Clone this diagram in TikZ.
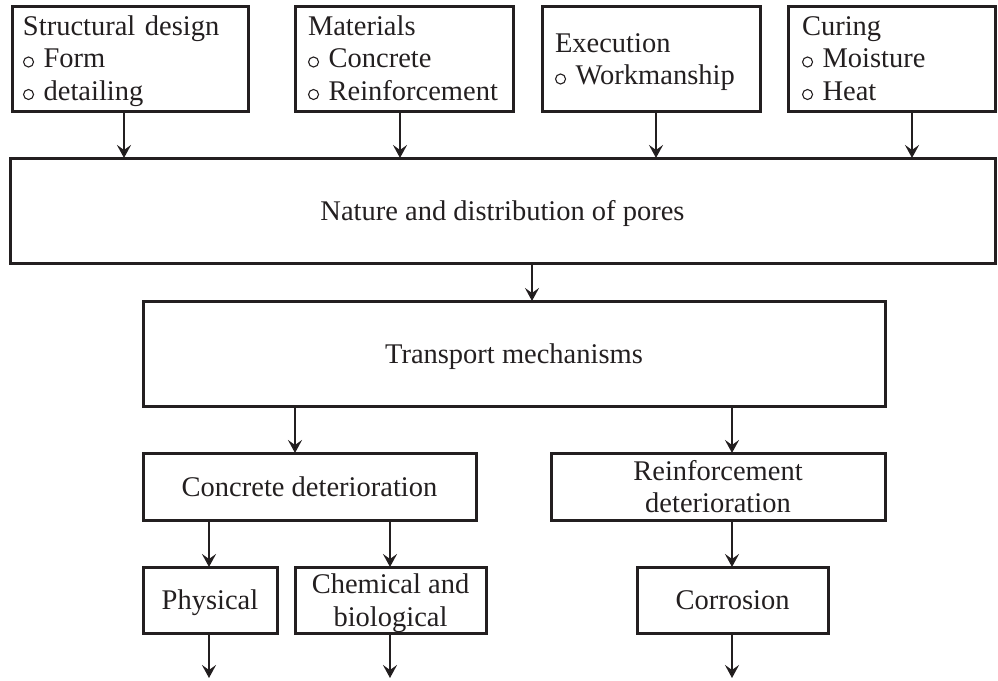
\documentclass[tikz,border=0pt]{standalone}
\usepackage{fontspec}
\setmainfont{Liberation Serif}
\usetikzlibrary{arrows.meta}
\definecolor{ink}{HTML}{231F20}
\newcommand{\cbul}{\tikz[baseline=0pt]\draw[ink,line width=1.1pt] (5.5pt,5.5pt) circle (5pt);\hspace{9.5pt}}
\newcommand{\topstrut}[1]{\rule{0pt}{#1}}
\newcommand{\botstrut}{\rule[-10pt]{0pt}{10pt}}
\begin{document}
\begin{tikzpicture}[x=1pt,y=-1pt,
  bx/.style={draw=ink, line width=3pt, rectangle, outer sep=0pt, inner sep=0pt,
     text=ink, font=\fontsize{28.5}{32.5}\selectfont, anchor=north west},
  lbox/.style={bx, align=left, minimum height=105pt},
  cbox/.style={bx, align=center, text depth=0pt},
  arr/.style={draw=ink, line width=2pt, -{Stealth[length=13pt,width=14pt,inset=5pt]}}]
\useasboundingbox (0,0) rectangle (998,680);
% top row
\node[lbox, minimum width=236pt, text width=214pt] (b1) at (12,6)
  {\topstrut{28pt}Structural design\\\cbul Form\\\cbul detailing\botstrut};
\node[lbox, minimum width=218pt, text width=192pt] (b2) at (295,6)
  {\topstrut{28pt}Materials\\\cbul Concrete\\\cbul Reinforcement\botstrut};
\node[lbox, minimum width=218pt, text width=192pt] (b3) at (542,6)
  {\topstrut{29.5pt}Execution\\\cbul Workmanship\botstrut};
\node[lbox, minimum width=207pt, text width=179pt] (b4) at (788,6)
  {\topstrut{28pt}Curing\\\cbul Moisture\\\cbul Heat\botstrut};
% middle
\node[cbox, minimum width=985pt, minimum height=105pt] (nat) at (10,158)
  {Nature and distribution of pores};
\node[cbox, minimum width=742pt, minimum height=105pt] (tra) at (143,301)
  {Transport mechanisms};
\node[cbox, minimum width=333pt, minimum height=67pt] (con) at (143,453)
  {Concrete deterioration};
\node[cbox, minimum width=334pt, minimum height=67pt] (rei) at (551,453)
  {Reinforcement\\deterioration};
\node[cbox, minimum width=134pt, minimum height=66pt] (phy) at (143,567)
  {Physical};
\node[cbox, minimum width=191pt, minimum height=66pt] (che) at (295,567)
  {Chemical and\\biological};
\node[cbox, minimum width=191pt, minimum height=66pt] (cor) at (637,567)
  {Corrosion};
% arrow columns
\coordinate (c1) at (124,0);
\coordinate (c2) at (400,0);
\coordinate (c3) at (656,0);
\coordinate (c4) at (912,0);
\coordinate (c5) at (532,0);
\coordinate (c6) at (295,0);
\coordinate (c7) at (732,0);
\coordinate (c8) at (209,0);
\coordinate (c9) at (390,0);
\coordinate (e1) at (209,678);
\coordinate (e2) at (390,678);
\coordinate (e3) at (732,678);
\draw[arr] (b1.south -| c1) -- (nat.north -| c1);
\draw[arr] (b2.south -| c2) -- (nat.north -| c2);
\draw[arr] (b3.south -| c3) -- (nat.north -| c3);
\draw[arr] (b4.south -| c4) -- (nat.north -| c4);
\draw[arr] (nat.south -| c5) -- (tra.north -| c5);
\draw[arr] (tra.south -| c6) -- (con.north -| c6);
\draw[arr] (tra.south -| c7) -- (rei.north -| c7);
\draw[arr] (con.south -| c8) -- (phy.north -| c8);
\draw[arr] (con.south -| c9) -- (che.north -| c9);
\draw[arr] (rei.south -| c7) -- (cor.north -| c7);
\draw[arr] (phy.south -| c8) -- (e1);
\draw[arr] (che.south -| c9) -- (e2);
\draw[arr] (cor.south -| c7) -- (e3);
\end{tikzpicture}
\end{document}
